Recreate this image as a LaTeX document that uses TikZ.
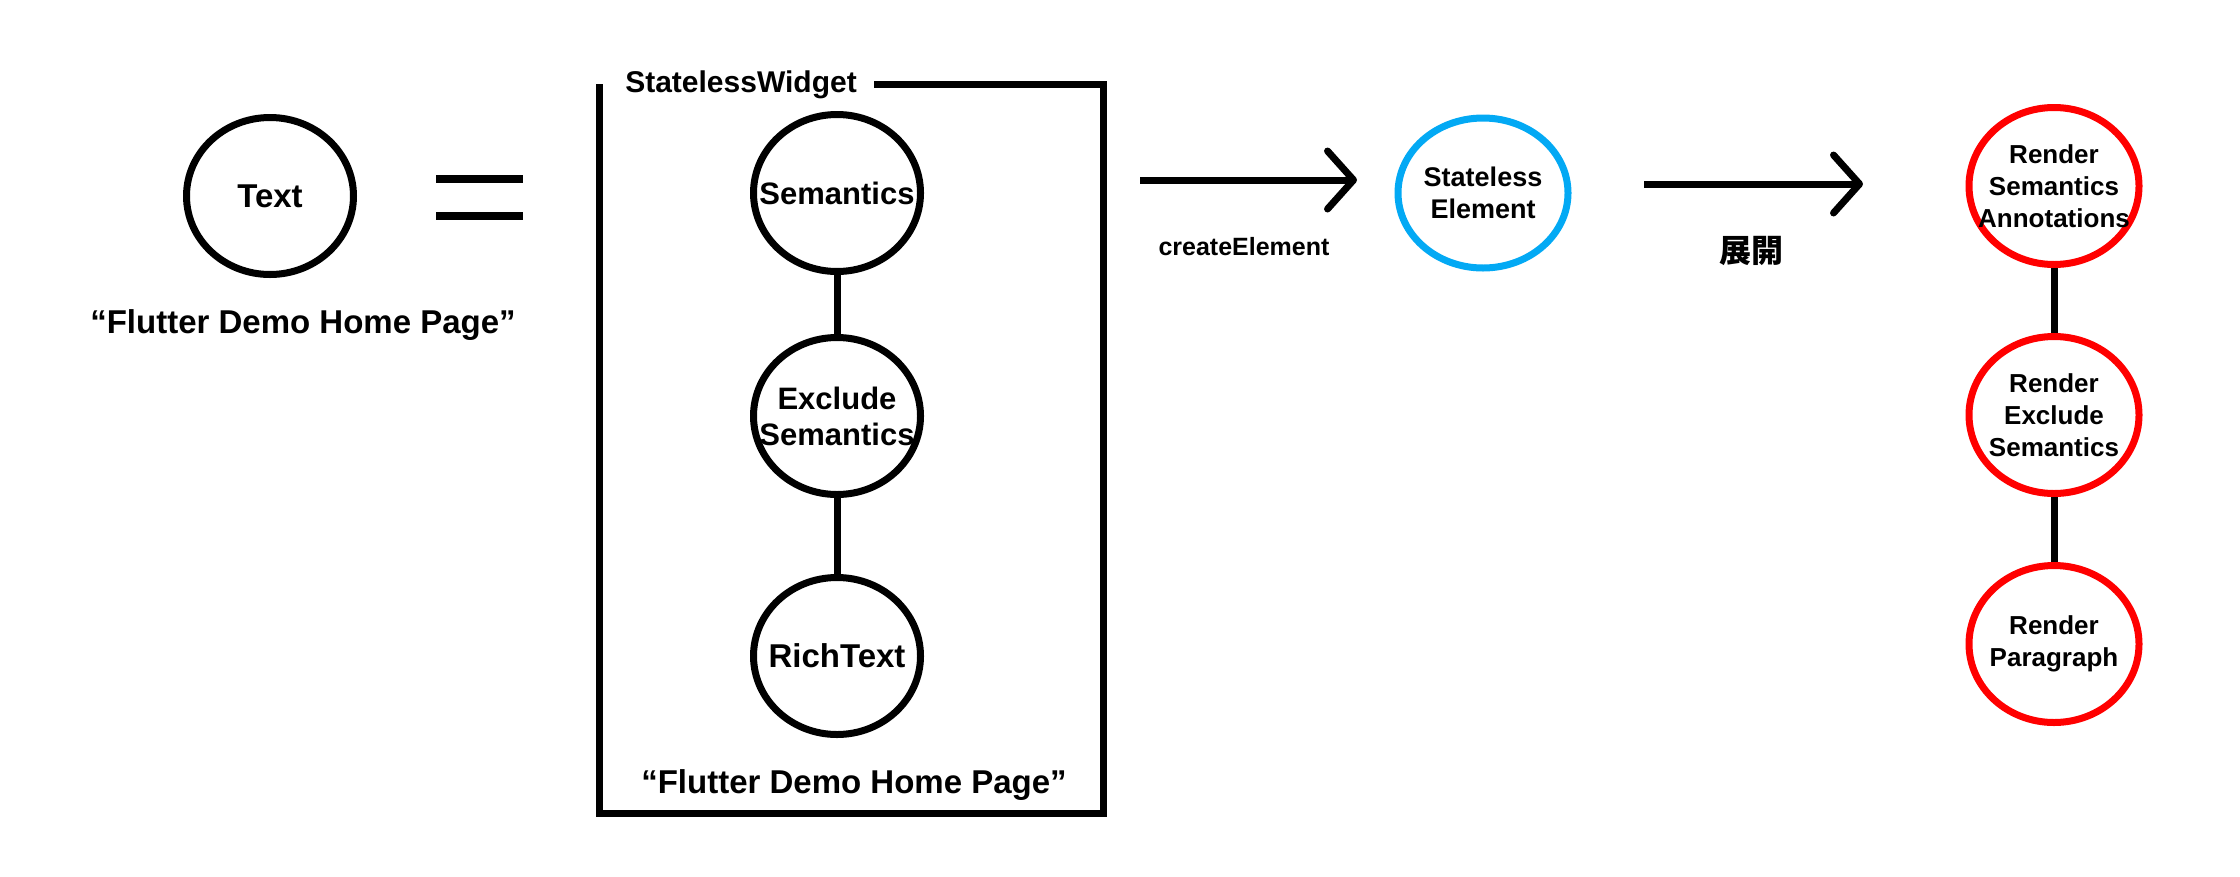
\documentclass[tikz,border=0pt]{standalone}
\usepackage{fontspec}
\setmainfont{Liberation Sans}
\newfontfamily\cjk{Noto Sans CJK JP}
\usepackage{xcolor}
\usepackage{tikz}
\usetikzlibrary{shapes.geometric,positioning,arrows.meta}

\definecolor{elemblue}{HTML}{03A9F4}
\definecolor{renderred}{HTML}{FF0000}

\tikzset{
  widget/.style={draw, line width=7pt, shape=ellipse, minimum width=167pt, minimum height=157pt,
    inner sep=-25pt, align=center, font=\bfseries\fontsize{31}{36}\selectfont},
  element/.style={widget, draw=elemblue, minimum width=170pt, minimum height=150pt,
    font=\bfseries\fontsize{26}{31}\selectfont},
  render/.style={widget, draw=renderred, minimum width=170pt, minimum height=157pt,
    font=\bfseries\fontsize{26}{32}\selectfont},
  caption/.style={font=\bfseries\fontsize{33}{40}\selectfont},
  link/.style={line width=7pt},
  frame/.style={line width=7pt, line join=miter},
  bigarrow/.style={line width=7pt, -{Straight Barb[length=26pt, width=58pt, round]}}
}

\begin{document}
\begin{tikzpicture}[x=1pt, y=-1pt, node distance=229pt]
  \useasboundingbox (0,0) rectangle (2240,876);

  % Text widget
  \node[widget, font=\bfseries\fontsize{33}{38}\selectfont] (txt) at (270,196) {Text};
  \node[caption] (txtval) at (303,325) {“Flutter Demo Home Page”};
  \draw[line width=8pt] (436,179) -- (523,179);
  \draw[line width=8pt] (436,216) -- (523,216);

  % StatelessWidget box
  \node[font=\bfseries\fontsize{30}{36}\selectfont] (sw) at (741,85) {StatelessWidget};
  \draw[frame] (874,84) -- (1103,84) -- (1103,813) -- (599,813) -- (599,84);
  \node[widget] (sem) at (837,193) {Semantics};
  \node[widget] (excl) at (837,416) {Exclude\\Semantics};
  \node[widget, font=\bfseries\fontsize{33}{38}\selectfont] (rich) at (837,656) {RichText};
  \node[caption] (richval) at (854,785) {“Flutter Demo Home Page”};
  \draw[link] (sem) -- (excl);
  \draw[link] (excl) -- (rich);

  % createElement
  \coordinate (ce1) at (1140,180);
  \coordinate (ce2) at (1357,180);
  \draw[bigarrow] (ce1) -- (ce2);
  \node[font=\bfseries\fontsize{25}{30}\selectfont] (celbl) at (1244,247) {createElement};
  \node[element, font=\bfseries\fontsize{27}{32}\selectfont] (selem) at (1483,193) {Stateless\\Element};

  % expand
  \coordinate (ex1) at (1644,184);
  \coordinate (ex2) at (1863,184);
  \draw[bigarrow] (ex1) -- (ex2);
  \node[font=\cjk\bfseries\fontsize{32}{38}\selectfont] (exlbl) at (1751,251) {展開};

  % render objects
  \node[render] (rsa) at (2054,186) {Render\\Semantics\\Annotations};
  \node[render] (rex) [below of=rsa] {Render\\Exclude\\Semantics};
  \node[render] (rp) [below of=rex] {Render\\Paragraph};
  \draw[link] (rsa) -- (rex);
  \draw[link] (rex) -- (rp);
\end{tikzpicture}
\end{document}
